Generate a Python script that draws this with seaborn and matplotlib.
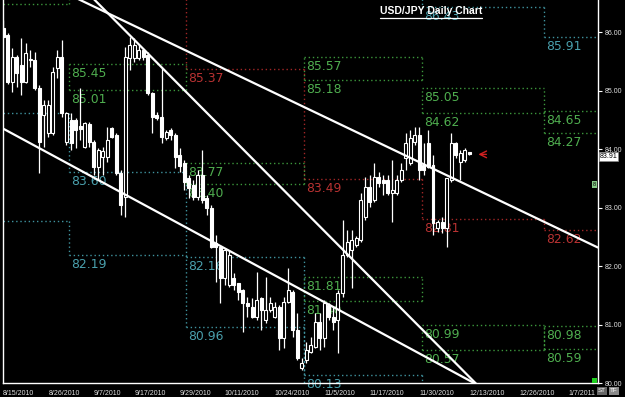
import numpy as np
import pandas as pd
import matplotlib
matplotlib.use("Agg")
import matplotlib.pyplot as plt
import matplotlib.transforms as mtransforms
from matplotlib.lines import Line2D
import seaborn as sns

# ---------------- data ----------------
first_bar = "2010-08-15"
opens = [86.07, 85.95, 85.15, 85.58, 85.44, 85.15, 85.52, 85.52, 85.05, 84.58,
         84.28, 84.28, 85.39, 85.58, 84.12, 84.50, 84.50, 84.40, 84.04, 84.43,
         84.12, 83.70, 83.87, 83.87, 84.36, 84.24, 83.59, 83.18, 85.56, 85.56,
         85.56, 85.70, 85.61, 84.96, 84.58, 84.55, 84.19, 84.33, 84.24, 83.90,
         83.76, 83.51, 83.39, 83.18, 83.56, 83.17, 82.99, 82.40, 82.33, 81.80,
         81.68, 81.80, 81.71, 81.59, 81.37, 81.30, 81.13, 81.46, 81.08, 81.25,
         81.13, 81.30, 80.77, 81.39, 81.56, 80.91, 80.26, 80.40, 80.53, 80.62,
         81.05, 80.77, 81.34, 81.13, 81.08, 81.54, 82.19, 82.28, 82.36, 82.45,
         82.84, 83.35, 83.13, 83.52, 83.47, 83.47, 83.25, 83.25, 83.47, 83.85,
         83.76, 84.12, 84.24, 83.73, 84.11, 83.73, 82.65, 82.76, 82.65, 83.47,
         84.11, 83.78, 83.82, 83.95]
highs = [86.21, 85.99, 85.73, 85.61, 85.90, 85.81, 85.70, 85.66, 85.10, 84.84,
         84.84, 85.40, 85.70, 85.87, 84.64, 84.62, 84.53, 85.05, 84.46, 84.46,
         84.16, 84.02, 84.04, 84.38, 84.38, 84.28, 83.64, 85.75, 85.92, 85.90,
         85.78, 85.73, 85.66, 84.98, 84.64, 85.39, 84.33, 84.36, 84.28, 84.02,
         83.82, 83.56, 83.47, 83.64, 83.99, 83.22, 83.05, 82.53, 82.36, 82.31,
         82.28, 81.88, 81.71, 81.61, 81.47, 81.46, 81.90, 81.47, 81.82, 81.47,
         81.39, 81.34, 81.47, 81.97, 81.59, 81.20, 80.43, 80.70, 80.79, 81.20,
         81.20, 81.42, 81.37, 81.30, 81.59, 82.79, 82.62, 82.62, 82.52, 83.25,
         83.52, 83.56, 83.76, 83.61, 83.56, 83.56, 83.82, 83.56, 83.76, 84.28,
         84.33, 84.38, 84.38, 84.11, 84.33, 83.90, 82.79, 82.84, 83.51, 84.28,
         84.12, 83.99, 84.02, 83.95]
lows = [85.90, 85.11, 84.98, 85.06, 84.93, 85.13, 85.40, 85.01, 83.59, 84.04,
        84.21, 84.24, 85.22, 84.55, 84.07, 83.99, 84.02, 84.16, 84.02, 84.04,
        83.56, 83.47, 83.56, 83.78, 84.19, 83.56, 82.87, 82.84, 85.35, 85.49,
        85.52, 85.52, 84.93, 84.28, 84.50, 84.11, 84.16, 84.16, 83.68, 83.61,
        83.30, 83.17, 83.13, 83.13, 83.08, 82.87, 82.31, 81.73, 81.37, 81.68,
        81.64, 81.59, 81.42, 80.87, 81.13, 81.11, 81.08, 80.91, 81.03, 81.22,
        81.11, 80.57, 80.60, 81.37, 80.79, 80.40, 80.22, 80.34, 80.52, 80.60,
        80.57, 80.62, 81.08, 80.91, 80.52, 81.47, 82.16, 81.63, 82.33, 82.41,
        82.79, 83.01, 83.10, 83.35, 83.22, 83.22, 82.76, 83.22, 83.44, 83.64,
        83.73, 84.07, 83.47, 83.56, 83.68, 82.53, 82.58, 82.57, 82.33, 83.44,
        83.85, 83.47, 83.78, 83.90]
closes = [85.92, 85.15, 85.58, 85.30, 85.15, 85.64, 85.54, 85.05, 84.12, 84.76,
          84.76, 85.32, 85.58, 84.62, 84.62, 84.11, 84.33, 84.35, 84.45, 84.12,
          83.70, 83.99, 83.97, 84.16, 84.21, 83.59, 83.05, 85.58, 85.78, 85.78,
          85.70, 85.58, 84.96, 84.55, 84.53, 84.21, 84.29, 84.24, 83.87, 83.71,
          83.44, 83.34, 83.18, 83.56, 83.13, 82.99, 82.33, 82.33, 81.80, 82.28,
          82.19, 81.68, 81.56, 81.37, 81.32, 81.13, 81.42, 81.25, 81.25, 81.37,
          81.30, 80.77, 81.39, 81.59, 80.91, 80.43, 80.34, 80.57, 80.65, 81.05,
          80.77, 81.37, 81.13, 81.05, 81.54, 82.19, 82.41, 82.45, 82.48, 83.13,
          83.35, 83.10, 83.52, 83.42, 83.42, 83.25, 83.30, 83.47, 83.64, 84.11,
          84.19, 84.24, 83.64, 83.64, 83.70, 82.74, 82.76, 82.65, 83.51, 84.11,
          83.90, 83.93, 83.99, 83.91]

tick_dates = ["2010-08-15", "2010-08-26", "2010-09-07", "2010-09-17", "2010-09-29",
              "2010-10-11", "2010-10-24", "2010-11-05", "2010-11-17", "2010-11-30",
              "2010-12-13", "2010-12-26", "2011-01-07"]
tick_labels = ["8/15/2010", "8/26/2010", "9/7/2010", "9/17/2010", "9/29/2010",
               "10/11/2010", "10/24/2010", "11/5/2010", "11/17/2010", "11/30/2010",
               "12/13/2010", "12/26/2010", "1/7/2011"]

months = ["2010-08", "2010-09", "2010-10", "2010-11", "2010-12", "2011-01"]
nan = np.nan
cyan_top = [nan, nan, nan, nan, 86.43, 85.91]
upper_hi = [nan, nan, nan, 85.57, 85.05, 84.65]
upper_lo = [nan, nan, nan, 85.18, 84.62, 84.27]
pivot = [nan, nan, 85.37, 83.49, 82.81, 82.62]
lower_hi = [nan, 85.45, 83.77, 81.81, 80.99, 80.98]
lower_lo = [86.48, 85.01, 83.40, 81.40, 80.57, 80.59]
cyan_bot = [84.62, 83.60, 82.16, 80.13, nan, nan]
cyan_bot2 = [82.77, 82.19, 80.96, nan, nan, nan]

trend_lines = [(("2010-09-07", 86.44), ("2011-01-02", 82.74)),
               (("2010-09-19", 85.79), ("2010-12-09", 80.34)),
               (("2010-08-15", 84.35), ("2010-12-09", 80.17))]

y_ticks = [80, 81, 82, 83, 84, 85, 86]
last_price = 83.91
title = "USD/JPY Daily Chart"

# ---------------- style ----------------
sns.set_theme(style="dark", rc={"axes.facecolor": "black", "figure.facecolor": "black",
                                "axes.grid": False, "axes.edgecolor": "white"})
plt.rcParams["font.family"] = ["Liberation Sans", "DejaVu Sans"]

GREEN_L, GREEN_T = "#3c963c", "#4fae4f"
CYAN_L, CYAN_T = "#3f929e", "#4aa0ad"
RED_L, RED_T = "#a02626", "#b83232"

XLIM = (-0.1, 131.4)
YLIM = (80.0, 86.55)

# bar calendar (Sun-Fri bars)
cal = pd.date_range("2010-08-01", "2011-01-31", freq="D")
cal = cal[cal.dayofweek != 5]
origin = cal.get_loc(pd.Timestamp(first_bar))
pos = pd.Series(np.arange(len(cal)) - origin, index=cal)

fig = plt.figure(figsize=(6.25, 3.97), dpi=100)
ax = fig.add_axes([2.7 / 625, 14 / 397, 595 / 625, 383 / 397])
ax.set_xlim(*XLIM)
ax.set_ylim(*YLIM)

# ---------------- level lines ----------------
bounds = []
for m in months:
    sel = pos[pos.index.strftime("%Y-%m") == m]
    bounds.append((sel.min() - 0.5, sel.max() + 0.5))

DOT = (0, (1, 2))


def edge(v, top):
    if np.isnan(v):
        return YLIM[1] + 0.5 if top else YLIM[0] - 0.5
    return v


def hseg(vals, lc, tc):
    for (s, e), v in zip(bounds, vals):
        if np.isnan(v):
            continue
        ax.hlines(v, s, e, colors=lc, linestyles=DOT, lw=1, zorder=1)
        if s > XLIM[0]:
            ax.annotate(f"{v:.2f}", xy=(s, v), xytext=(2, -3), textcoords="offset pixels",
                        ha="left", va="top", color=tc, fontsize=8.9,
                        family="DejaVu Sans", zorder=1, annotation_clip=False)


def steps(vals, lc, tc, top):
    hseg(vals, lc, tc)
    for k in range(1, len(vals)):
        a, b = vals[k - 1], vals[k]
        if np.isnan(a) and np.isnan(b):
            continue
        ax.vlines(bounds[k][0], edge(a, top), edge(b, top), colors=lc,
                  linestyles=DOT, lw=1, zorder=1)


def boxes(his, los, lc, tc):
    hseg(his, lc, tc)
    hseg(los, lc, tc)
    for (s, e), h, l in zip(bounds, his, los):
        if np.isnan(h) and np.isnan(l):
            continue
        ax.vlines([s, e], edge(l, False), edge(h, True), colors=lc,
                  linestyles=DOT, lw=1, zorder=1)


steps(cyan_top, CYAN_L, CYAN_T, True)
boxes(upper_hi, upper_lo, GREEN_L, GREEN_T)
steps(pivot, RED_L, RED_T, True)
boxes(lower_hi, lower_lo, GREEN_L, GREEN_T)
steps(cyan_bot, CYAN_L, CYAN_T, False)
steps(cyan_bot2, CYAN_L, CYAN_T, False)

# ---------------- candles ----------------
o = np.array(opens); h = np.array(highs); l = np.array(lows); c = np.array(closes)
x = np.arange(len(o))
ax.vlines(x, l, h, colors="white", lw=0.9, zorder=3)
bear = c < o
face = np.where(bear, "white", "black")
body_lo = np.minimum(o, c)
body_h = np.maximum(np.abs(c - o), 0.015)
ax.bar(x, body_h, bottom=body_lo, width=0.66, color=face, edgecolor="white",
       linewidth=0.8, zorder=4)

# ---------------- trend lines ----------------
for (d0, p0), (d1, p1) in trend_lines:
    x0, x1 = pos[pd.Timestamp(d0)], pos[pd.Timestamp(d1)]
    slope = (p1 - p0) / (x1 - x0)
    xs = np.array(XLIM)
    ys = p0 + slope * (xs - x0)
    sns.lineplot(x=xs, y=ys, color="white", lw=1.6, ax=ax, zorder=5)

# ---------------- axes ----------------
for s in ["left", "bottom", "right"]:
    ax.spines[s].set_color("white")
    ax.spines[s].set_linewidth(1.0)
ax.spines["top"].set_visible(False)
ax.yaxis.tick_right()
ax.set_yticks(y_ticks)
ax.set_yticklabels([f"{v:.2f}" for v in y_ticks])
ax.tick_params(axis="y", colors="white", labelcolor="#e0e0e0", labelsize=5,
               length=3, width=0.8, direction="out", pad=2, right=True, left=False)
xt = [pos[pd.Timestamp(d)] for d in tick_dates]
ax.set_xticks(xt)
ax.set_xticklabels(tick_labels)
for t in ax.get_xticklabels():
    t.set_horizontalalignment("left")
ax.tick_params(axis="x", colors="white", labelcolor="#e0e0e0", labelsize=5,
               length=4, width=0.8, direction="out", pad=1)
ax.set_xlabel(""); ax.set_ylabel("")

# current price marker and tag
ax.annotate("", xy=(x[-1] + 1.4, last_price), xytext=(x[-1] + 4.4, last_price),
            arrowprops=dict(arrowstyle="->", color="#d02020", lw=1.0), zorder=6)
trans = mtransforms.blended_transform_factory(ax.transAxes, ax.transData)
ax.text(1.003, last_price - 0.03, f"{last_price:.2f}", transform=trans, ha="left",
        va="center", fontsize=5, color="black", clip_on=False,
        bbox=dict(facecolor="white", edgecolor="#888888", pad=0.7, lw=0.5))
ax.text(0.994, 83.39, "8", transform=trans, ha="center", va="center", fontsize=4,
        color="black", bbox=dict(facecolor="#86c886", edgecolor="none", pad=0.6))
ax.add_patch(plt.Rectangle((0.991, 0.0), 0.007, 0.014, transform=ax.transAxes,
                           facecolor="#20d020", edgecolor="none", zorder=7))
fig.text(598 / 625, 1 - 391 / 397, "ST", fontsize=4.5, color="white", va="center",
         ha="left", bbox=dict(facecolor="#666666", edgecolor="none", pad=0.8))
fig.text(610 / 625, 1 - 391 / 397, "TF", fontsize=4.5, color="white", va="center",
         ha="left", bbox=dict(facecolor="#888888", edgecolor="none", pad=0.8))

# title with underline
fig.text(431 / 625, 1 - 11.5 / 397, title, ha="center", va="center", color="white",
         fontsize=7.5, fontweight="bold", family="Liberation Sans")
fig.add_artist(Line2D([380 / 625, 482 / 625], [1 - 17.5 / 397, 1 - 17.5 / 397],
                      transform=fig.transFigure, color="white", lw=0.9))

fig.savefig("out.png", dpi=100, facecolor="black")
